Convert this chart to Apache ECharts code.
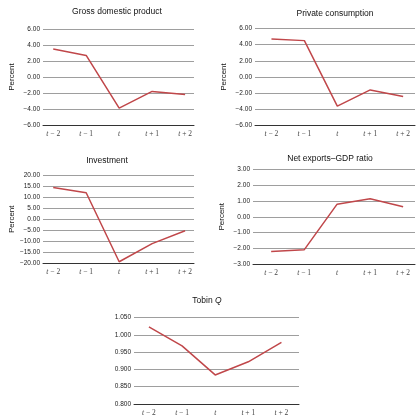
<!DOCTYPE html>
<html><head><meta charset="utf-8">
<script src="https://cdn.jsdelivr.net/npm/echarts@6/dist/echarts.min.js"></script>
<style>html,body{margin:0;padding:0;background:#fff}#c{width:416px;height:417px}</style>
</head><body><div id="c"></div>
<script>
const periods = ['t − 2', 't − 1', 't', 't + 1', 't + 2'];
const gdp = [3.5, 2.7, -3.9, -1.8, -2.2];
const consumption = [4.7, 4.5, -3.6, -1.6, -2.4];
const investment = [14.4, 12.0, -19.2, -11.0, -5.2];
const netExports = [-2.2, -2.1, 0.8, 1.14, 0.63];
const tobinQ = [1.023, 0.968, 0.884, 0.922, 0.978];
const titles = ['Gross domestic product', 'Private consumption', 'Investment', 'Net exports–GDP ratio', 'Tobin {q|Q}'];

const panels = [
  {data: gdp, grid: {left: 43, top: 29, width: 151, height: 96}, x: [-0.31, 4.27], y: [-6, 6, 2, 2], name: 'Percent', title: [117, 7.5]},
  {data: consumption, grid: {left: 255, top: 28.5, width: 160, height: 97}, x: [-0.5, 4.36], y: [-6, 6, 2, 2], name: 'Percent', title: [335, 9]},
  {data: investment, grid: {left: 43, top: 175, width: 151, height: 88.5}, x: [-0.31, 4.27], y: [-20, 20, 5, 2], name: 'Percent', title: [107, 156]},
  {data: netExports, grid: {left: 253, top: 169.5, width: 162, height: 94.5}, x: [-0.55, 4.36], y: [-3, 3, 1, 2], name: 'Percent', title: [330, 154]},
  {data: tobinQ, grid: {left: 134, top: 317.5, width: 165, height: 88}, x: [-0.45, 4.53], y: [0.8, 1.05, 0.05, 3], name: '', title: [207, 296]}
];

const fmtNum = (v, d) => v.toFixed(d).replace('-', '−');

const option = {
  animation: false,
  title: panels.map((p, i) => ({
    text: titles[i], left: p.title[0], top: p.title[1], textAlign: 'center', padding: 0,
    textStyle: {fontFamily: 'Liberation Sans', fontSize: 8.5, fontWeight: 'normal', color: '#111',
      rich: {q: {fontFamily: 'Liberation Sans', fontSize: 8.5, fontStyle: 'italic', color: '#111'}}}
  })),
  grid: panels.map(p => Object.assign({containLabel: false}, p.grid)),
  xAxis: panels.map((p, i) => ({
    type: 'value', gridIndex: i, min: p.x[0], max: p.x[1],
    axisLine: {show: true, onZero: false, lineStyle: {color: '#333', width: 1}},
    axisTick: {show: false}, splitLine: {show: false},
    axisLabel: {customValues: [0, 1, 2, 3, 4], margin: 5,
      formatter: v => { const s = periods[Math.round(v)]; return s ? s.replace(/^t/, '{i|t}') : ''; },
      fontFamily: 'Liberation Serif', fontSize: 7.5, color: '#444',
      rich: {i: {fontFamily: 'Liberation Serif', fontStyle: 'italic', fontSize: 7.5, color: '#444'}}}
  })),
  yAxis: panels.map((p, i) => ({
    type: 'value', gridIndex: i, min: p.y[0], max: p.y[1], interval: p.y[2],
    name: p.name, nameLocation: 'middle', nameRotate: 90, nameGap: 27,
    nameTextStyle: {fontFamily: 'Liberation Sans', fontSize: 8, color: '#111'},
    axisLine: {show: false}, axisTick: {show: false},
    splitLine: {show: true, lineStyle: {color: '#9e9e9e', width: 1}},
    axisLabel: {margin: 3, formatter: v => fmtNum(v, p.y[3]), fontFamily: 'Liberation Sans', fontSize: 6.5, color: '#222'}
  })),
  series: panels.map((p, i) => ({
    type: 'line', xAxisIndex: i, yAxisIndex: i, symbol: 'none',
    data: p.data.map((v, k) => [k, v]),
    lineStyle: {color: '#c0474a', width: 1.5}
  }))
};
echarts.init(document.getElementById('c')).setOption(option);
</script></body></html>
